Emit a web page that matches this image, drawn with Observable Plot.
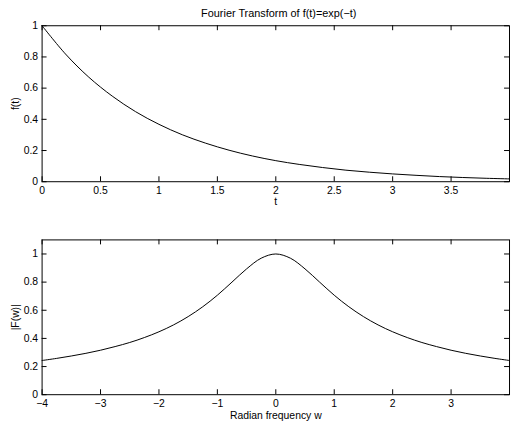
<!DOCTYPE html>
<html><head><meta charset="utf-8">
<script src="https://cdn.jsdelivr.net/npm/d3@7"></script>
<script src="https://cdn.jsdelivr.net/npm/@observablehq/plot@0.6"></script>
<style>
body{margin:0;background:#fff;}
#wrap{width:511px;height:428px;overflow:hidden;position:relative;background:#fff;}
#wrap svg{display:block;}
</style></head><body><div id="wrap"></div>
<script>
const chartTitle = "Fourier Transform of f(t)=exp(−t)";
const tValues = [0,0.2,0.4,0.6,0.8,1.0,1.2,1.4,1.6,1.8,2.0,2.2,2.4,2.6,2.8,3.0,3.2,3.4,3.6,3.8,4.0];
const fValues = [1,0.819,0.670,0.549,0.449,0.368,0.301,0.247,0.202,0.165,0.135,0.111,0.091,0.074,0.061,0.050,0.041,0.033,0.027,0.022,0.018];
const wValues = [-4,-3.75,-3.5,-3.25,-3,-2.75,-2.5,-2.25,-2,-1.75,-1.5,-1.25,-1,-0.75,-0.5,-0.25,0,0.25,0.5,0.75,1,1.25,1.5,1.75,2,2.25,2.5,2.75,3,3.25,3.5,3.75,4];
const magValues = [0.243,0.258,0.275,0.294,0.316,0.342,0.371,0.406,0.447,0.496,0.555,0.625,0.707,0.8,0.894,0.970,1,0.970,0.894,0.8,0.707,0.625,0.555,0.496,0.447,0.406,0.371,0.342,0.316,0.294,0.275,0.258,0.243];
const tTicks = [0,0.5,1,1.5,2,2.5,3,3.5];
const fTicks = [0,0.2,0.4,0.6,0.8,1];
const wTicks = [-4,-3,-2,-1,0,1,2,3];
const magTicks = [0,0.2,0.4,0.6,0.8,1];
const tLabel = "t", fLabel = "f(t)", wLabel = "Radian frequency w", magLabel = "|F(w)|";

const fmt = d => (d < 0 ? "−" + Math.abs(d) : String(d));
const FONT = "'Liberation Sans', Arial, Helvetica, sans-serif";

function panel({xs, ys, xDomain, yDomain, xTicks, yTicks, xLabel, yLabel, height, mt, mb, title, labelDy}) {
  const W = 516, ml = 42, mr = 2, tl = 5;
  const fw = W - ml - mr, fh = height - mt - mb;
  const data = xs.map((x, i) => ({x, y: ys[i]}));
  const marks = [
    Plot.line(data, {x: "x", y: "y", stroke: "black", strokeWidth: 1, curve: "catmull-rom"}),
    Plot.frame({stroke: "black", strokeWidth: 1}),
    Plot.tickX(xTicks, {x: d => d, insetTop: fh - tl, stroke: "black"}),
    Plot.tickX(xTicks, {x: d => d, insetBottom: fh - tl, stroke: "black"}),
    Plot.tickY(yTicks, {y: d => d, insetRight: fw - tl, stroke: "black"}),
    Plot.tickY(yTicks, {y: d => d, insetLeft: fw - tl, stroke: "black"}),
    Plot.text(xTicks, {x: d => d, text: fmt, frameAnchor: "bottom", lineAnchor: "middle", dy: 9.5, fontSize: 10.5}),
    Plot.text(yTicks, {y: d => d, text: fmt, frameAnchor: "left", textAnchor: "end", lineAnchor: "middle", dx: -4, fontSize: 10.5}),
    Plot.text([xLabel], {text: d => d, frameAnchor: "bottom", lineAnchor: "middle", dy: labelDy, fontSize: 10.5}),
    Plot.text([yLabel], {text: d => d, frameAnchor: "left", textAnchor: "middle", lineAnchor: "middle", rotate: -90, dx: -27, fontSize: 10.5})
  ];
  if (title) marks.push(Plot.text([title], {text: d => d, frameAnchor: "top", lineAnchor: "middle", dy: -12, dx: 3, fontSize: 11}));
  return Plot.plot({
    width: W, height, marginLeft: ml, marginRight: mr, marginTop: mt, marginBottom: mb,
    x: {domain: xDomain, axis: null},
    y: {domain: yDomain, axis: null},
    style: {fontFamily: FONT, fontSize: "10px", background: "white", color: "black"},
    marks
  });
}

const wrap = document.getElementById("wrap");
wrap.appendChild(panel({xs: tValues, ys: fValues, xDomain: [0, 4], yDomain: [0, 1], xTicks: tTicks, yTicks: fTicks,
  xLabel: tLabel, yLabel: fLabel, height: 212, mt: 25.5, mb: 29, title: chartTitle, labelDy: 20}));
wrap.appendChild(panel({xs: wValues, ys: magValues, xDomain: [-4, 4], yDomain: [0, 1.1], xTicks: wTicks, yTicks: magTicks,
  xLabel: wLabel, yLabel: magLabel, height: 216, mt: 29.7, mb: 30, labelDy: 21.5}));
</script></body></html>
